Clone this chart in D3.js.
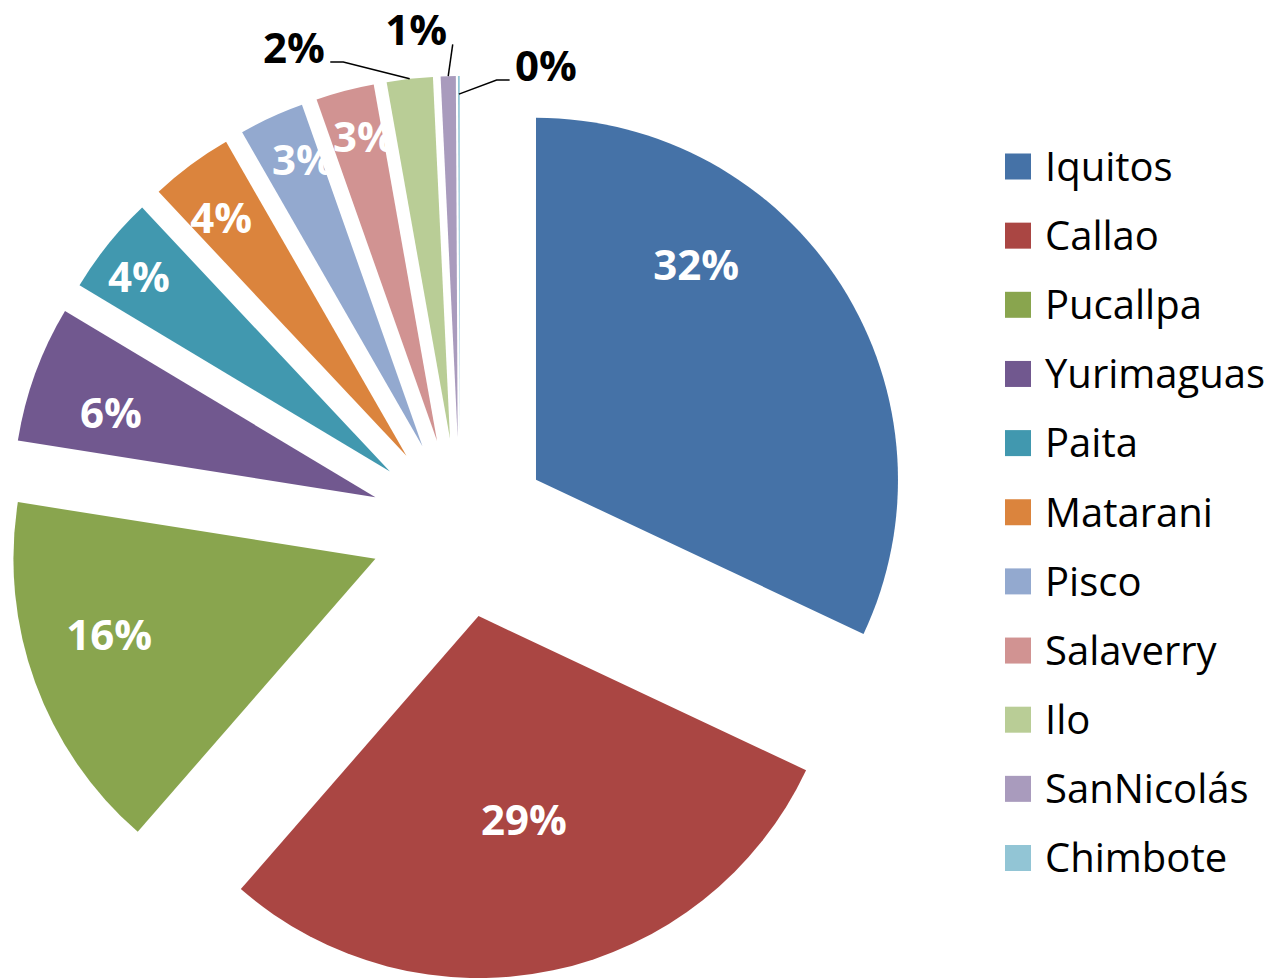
<!DOCTYPE html>
<html>
<head>
<meta charset="utf-8">
<script src="https://cdn.jsdelivr.net/npm/d3@7"></script>
<style>
  html, body { margin: 0; padding: 0; background: #fff; }
  svg { display: block; }
</style>
</head>
<body>
<svg id="chart" width="1275" height="978"></svg>
<script>
// ---- data ----
const categories = ["Iquitos", "Callao", "Pucallpa", "Yurimaguas", "Paita", "Matarani", "Pisco", "Salaverry", "Ilo", "SanNicolás", "Chimbote"];
const values = [32.0, 29.4, 16.1, 6.1, 4.4, 3.7, 2.9, 2.6, 2.05, 0.67, 0.08];
const colors = ["#4572A7", "#AA4643", "#89A54E", "#71588F", "#4198AF", "#DB843D", "#93A9CF", "#D19392", "#B9CD96", "#A99BBD", "#92C5D5"];

// ---- layout / style ----
const W = 1275, H = 978;
const center = { x: 460, y: 528 };
const R = 362;
const explode = 90;
const labelFont = "'Open Sans', 'Noto Sans', sans-serif";
const labelSize = 42;
const capRatio = 0.714;
// label placement relative to each slice's bisector: angle delta (deg), radius factor
const labelPlacement = [
  { da: -20.9, rf: 0.74 },
  { da: -0.7, rf: 0.577 },
  { da: 4.0, rf: 0.765 },
  { da: -2.3, rf: 0.767 },
  { da: -1.1, rf: 0.877 },
  { da: -1.4, rf: 0.832 },
  { da: 2.0, rf: 0.857 },
  { da: 1.2, rf: 0.863 },
  { da: -15.4, rf: 1.162, out: true, elbow: 13, leaderR: 1.0 },
  { da: -4.3, rf: 1.132, out: true, elbow: 0, leaderR: 1.0 },
  { da: 13.2, rf: 1.055, out: true, elbow: 13, leaderR: 0.95 }
];

const data = categories.map((c, i) => ({ name: c, value: values[i], color: colors[i] }));
const total = d3.sum(values);
const fmt = d3.format(".0%");

const svg = d3.select("#chart");
svg.append("rect").attr("width", W).attr("height", H).attr("fill", "#fff");

const pie = d3.pie().value(d => d.value).sort(null);
const arcs = pie(data);
const arc = d3.arc().innerRadius(0).outerRadius(R);

const g = svg.append("g").attr("transform", `translate(${center.x},${center.y})`);

function polar(angleRad, r) {
  return [r * Math.sin(angleRad), -r * Math.cos(angleRad)];
}

arcs.forEach((a, i) => {
  const mid = (a.startAngle + a.endAngle) / 2;
  const [ox, oy] = polar(mid, explode);
  const sg = g.append("g").attr("transform", `translate(${ox},${oy})`);
  sg.append("path").attr("d", arc(a)).attr("fill", a.data.color);
  a._apex = [ox, oy];
  a._mid = mid;
});

// labels
const lg = g.append("g");
arcs.forEach((a, i) => {
  const p = labelPlacement[i];
  const ang = a._mid + p.da * Math.PI / 180;
  const [lx0, ly0] = polar(ang, p.rf * R);
  const lx = a._apex[0] + lx0, ly = a._apex[1] + ly0;
  const capH = capRatio * labelSize;
  const t = lg.append("text")
    .attr("x", lx)
    .attr("y", ly + capH / 2)
    .attr("text-anchor", "middle")
    .attr("font-family", labelFont)
    .attr("font-weight", 700)
    .attr("font-size", labelSize)
    .attr("fill", p.out ? "#000" : "#fff")
    .text(fmt(a.data.value / total));
  if (p.out) {
    const tw = t.node().getComputedTextLength();
    const left = lx - tw / 2, right = lx + tw / 2, bottom = ly + capH / 2;
    const [tx0, ty0] = polar(a._mid, p.leaderR * R);
    const tx = a._apex[0] + tx0, ty = a._apex[1] + ty0;
    let sx, ex;
    if (tx > right) { sx = right + 5.5; ex = sx + p.elbow; }
    else { sx = left - 5.5; ex = sx - p.elbow; }
    const sy = bottom - 1;
    const pts = p.elbow > 0 ? [[sx, sy], [ex, sy], [tx, ty]] : [[sx, sy], [tx, ty]];
    lg.append("path")
      .attr("d", d3.line()(pts))
      .attr("fill", "none")
      .attr("stroke", "#000")
      .attr("stroke-width", 1.5);
  }
});

// legend
const legendX = 1005, legendTop = 166.5, legendStep = 69.15, sw = 26;
const legendSize = 40;
const leg = svg.append("g");
data.forEach((d, i) => {
  const cy = legendTop + i * legendStep;
  leg.append("rect")
    .attr("x", legendX).attr("y", cy - sw / 2)
    .attr("width", sw).attr("height", sw)
    .attr("fill", d.color);
  leg.append("text")
    .attr("x", 1045)
    .attr("y", cy + capRatio * legendSize / 2)
    .attr("font-family", labelFont)
    .attr("font-size", legendSize)
    .attr("fill", "#000")
    .text(d.name);
});
</script>
</body>
</html>
